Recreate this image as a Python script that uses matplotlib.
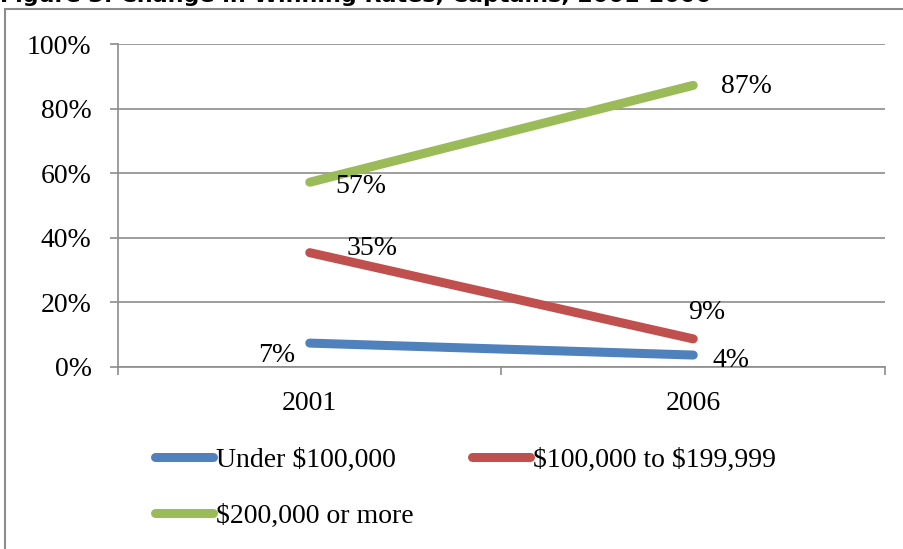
import matplotlib
matplotlib.use('Agg')
import matplotlib.pyplot as plt
import matplotlib.patches as patches

# data (percent)
years = ['2001', '2006']
under_100k = [7.4, 3.7]
mid_100k_200k = [35.4, 8.7]
over_200k = [57.2, 87.2]
series_names = ['Under \\$100,000', '\\$100,000 to \\$199,999', '\\$200,000 or more']
colors = ['#4F81BD', '#C0504D', '#9BBB59']
title = 'Figure 3: Change in Winning Rates, Captains, 2001-2006'

plt.rcParams['font.family'] = ['Liberation Serif', 'DejaVu Serif']
plt.rcParams['font.size'] = 20

fig = plt.figure(figsize=(9.04, 5.49), dpi=100)
fig.patch.set_facecolor('white')

# outer chart border (right and bottom edges run off the picture)
border = patches.Rectangle((5 / 904, -0.2), 1.2, 0.2 + (1 - 9 / 549),
                           transform=fig.transFigure, fill=False,
                           edgecolor='#8c8c8c', linewidth=1.5, clip_on=False)
fig.patches.append(border)

# title, mostly cut off at the top like the reference
fig.text(0.0, 1 - 1.5 / 549, title, family='DejaVu Sans', weight='bold',
         fontsize=16, ha='left', va='baseline')

ax = fig.add_axes([118 / 904, 1 - 367 / 549, (885 - 118) / 904, (367 - 44) / 549])

x = [0.5, 1.5]
all_series = [under_100k, mid_100k_200k, over_200k]
lines = []
for vals, name, c in zip(all_series, series_names, colors):
    ln, = ax.plot(x, vals, color=c, linewidth=6.5, solid_capstyle='round', label=name, zorder=3)
    lines.append(ln)

# data labels: offsets in points from each point
offsets = [[(-24, -9), (27, -4)],
           [(45, 3), (10, 19)],
           [(37, -3), (38, -1)]]
for vals, offs in zip(all_series, offsets):
    for xi, v, off in zip(x, vals, offs):
        ax.annotate(f'{v:.0f}%', (xi, v), xytext=off, textcoords='offset points',
                    ha='center', va='center', zorder=4)

ax.set_xlim(0, 2)
ax.set_ylim(0, 100)
ax.set_yticks([0, 20, 40, 60, 80, 100])
ax.set_yticklabels([f'{t}%' for t in range(0, 101, 20)])
ax.yaxis.grid(True, color='#8c8c8c', linewidth=1.2)
ax.set_axisbelow(True)

ax.set_xticks([0, 1, 2])
ax.set_xticklabels([])
ax.set_xticks(x, minor=True)
ax.set_xticklabels(years, minor=True)
ax.tick_params(axis='x', which='major', length=6, width=1.2, color='#8c8c8c', direction='out')
ax.tick_params(axis='x', which='minor', length=0, pad=17)
ax.tick_params(axis='y', length=6, width=1.2, color='#8c8c8c', direction='out', pad=13)

for side in ['top', 'right']:
    ax.spines[side].set_visible(False)
for side in ['left', 'bottom']:
    ax.spines[side].set_color('#8c8c8c')
    ax.spines[side].set_linewidth(1.2)

# legend filled row by row: reorder for matplotlib's column-major fill
order = [0, 2, 1]
leg = fig.legend([lines[i] for i in order], [series_names[i] for i in order],
                 loc='upper left', bbox_to_anchor=(155 / 904, 1 - 447 / 549), ncol=2,
                 frameon=False, handlelength=2.1, handletextpad=0.1,
                 columnspacing=2.1, labelspacing=1.1, borderaxespad=0, borderpad=0)
for line in leg.get_lines():
    line.set_linewidth(6.5)
    line.set_solid_capstyle('round')

fig.savefig('out.png', dpi=100)
